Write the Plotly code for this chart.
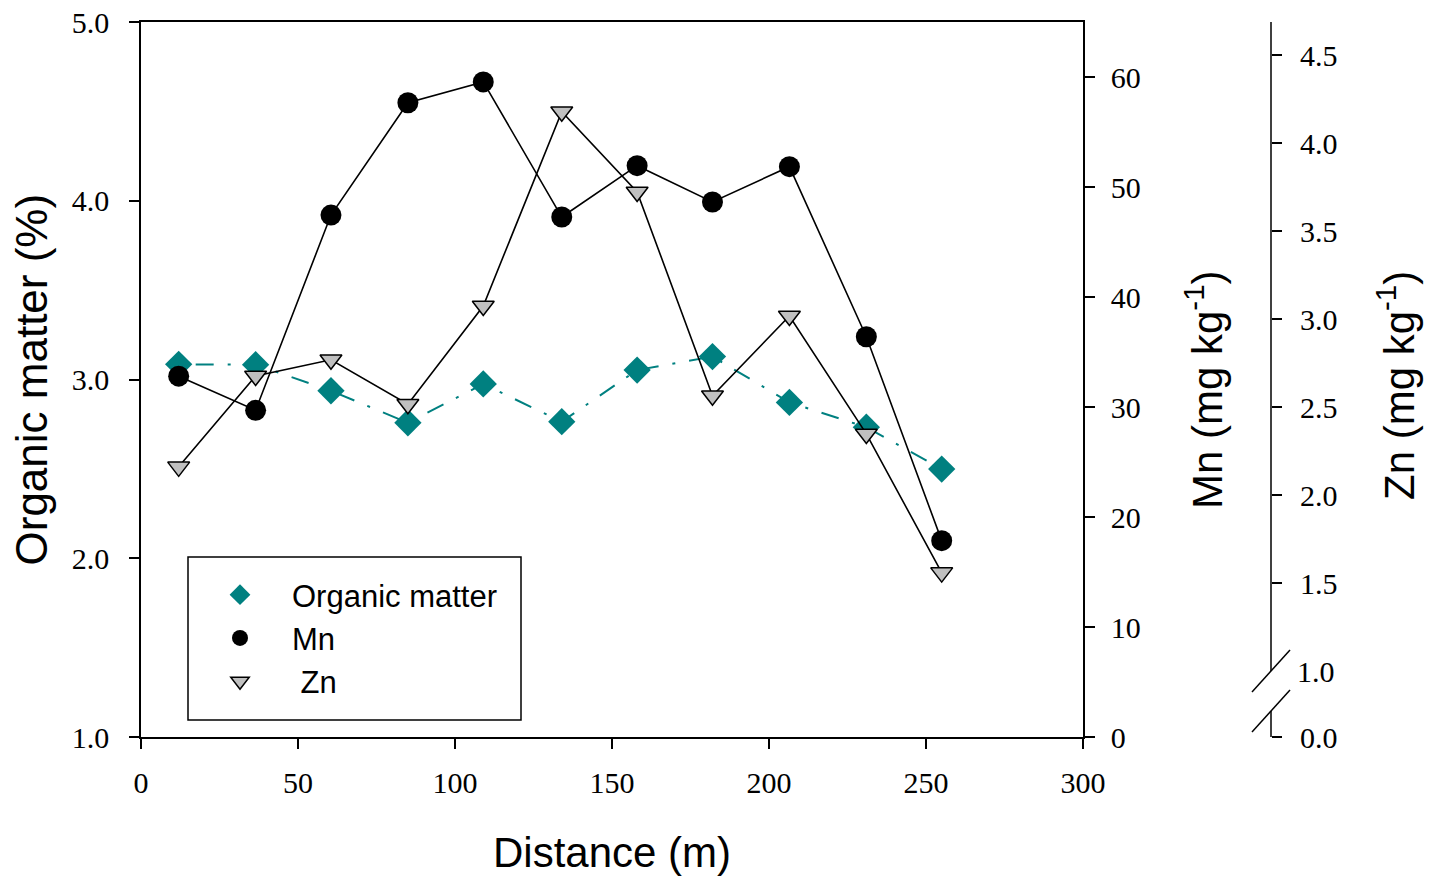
import plotly.graph_objects as go

distance = [12, 36.5, 60.5, 85, 109, 134, 158, 182, 206.5, 231, 255]
organic_matter = [3.085, 3.083, 2.937, 2.758, 2.975, 2.764, 3.053, 3.128, 2.872, 2.733, 2.499]
mn = [32.8, 29.7, 47.45, 57.66, 59.55, 47.27, 51.94, 48.64, 51.85, 36.39, 17.85]
zn = [2.16, 2.676, 2.768, 2.516, 3.074, 4.178, 3.722, 2.564, 3.017, 2.347, 1.559]

zn_break_bottom = 0.625
zn_tickvals = [0.625, 1.5, 2.0, 2.5, 3.0, 3.5, 4.0, 4.5]
zn_ticktext = ["0.0", "1.5", "2.0", "2.5", "3.0", "3.5", "4.0", "4.5"]

TEAL = "#008080"
SERIF = "Liberation Serif"
SANS = "Liberation Sans"

fig = go.Figure()

fig.add_trace(go.Scatter(x=distance, y=organic_matter, mode="lines", yaxis="y",
                         line=dict(color=TEAL, width=2, dash="3px,14px,18px,14px"),
                         showlegend=False, hoverinfo="skip"))
fig.add_trace(go.Scatter(x=distance, y=organic_matter, mode="markers", yaxis="y",
                         name="Organic matter",
                         marker=dict(symbol="diamond", size=21, color=TEAL, line=dict(width=0))))
fig.add_trace(go.Scatter(x=distance, y=mn, mode="lines", yaxis="y2",
                         line=dict(color="black", width=1.6), showlegend=False, hoverinfo="skip"))
fig.add_trace(go.Scatter(x=distance, y=mn, mode="markers", yaxis="y2", name="Mn",
                         marker=dict(symbol="circle", size=21, color="black", line=dict(width=0))))
fig.add_trace(go.Scatter(x=distance, y=zn, mode="lines", yaxis="y3",
                         line=dict(color="black", width=1.6), showlegend=False, hoverinfo="skip"))
fig.add_trace(go.Scatter(x=distance, y=zn, mode="markers", yaxis="y3", name=" Zn",
                         marker=dict(symbol="triangle-down", size=19, color="#c0c0c0",
                                     line=dict(color="black", width=1.5))))

tickfont = dict(family=SERIF, size=30, color="black")

fig.update_layout(
    width=1429, height=877,
    margin=dict(l=141, r=158, t=22, b=140, autoexpand=False),
    paper_bgcolor="white", plot_bgcolor="white",
    xaxis=dict(domain=[0, 942 / 1130], range=[0, 300], tickvals=[0, 50, 100, 150, 200, 250, 300],
               showgrid=False, zeroline=False, showline=True, linecolor="black", linewidth=1.5,
               mirror=True, ticks="outside", ticklen=10, tickwidth=1.5, tickcolor="black",
               tickfont=tickfont, ticklabelstandoff=8),
    yaxis=dict(range=[1.0, 5.0], tickvals=[1, 2, 3, 4, 5], ticktext=["1.0", "2.0", "3.0", "4.0", "5.0"],
               showgrid=False, zeroline=False, showline=True, linecolor="black", linewidth=1.5,
               mirror=True, ticks="outside", ticklen=10, tickwidth=1.5, tickcolor="black",
               tickfont=tickfont, ticklabelstandoff=14),
    yaxis2=dict(range=[0, 65], tickvals=[0, 10, 20, 30, 40, 50, 60], overlaying="y", side="right",
                anchor="x", showgrid=False, zeroline=False, showline=True, linecolor="black",
                linewidth=1.5, ticks="outside", ticklen=10, tickwidth=1.5, tickcolor="black",
                tickfont=tickfont, ticklabelstandoff=10),
    yaxis3=dict(range=[zn_break_bottom, 4.6875], tickvals=zn_tickvals, ticktext=zn_ticktext,
                overlaying="y", side="right", anchor="free", position=1.0, showgrid=False,
                zeroline=False, showline=False, ticks="outside", ticklen=10, tickwidth=1.5,
                tickcolor="black", tickfont=tickfont, ticklabelstandoff=12),
    legend=dict(x=(188 - 141) / 1130, y=(737 - 568) / 715, xanchor="left", yanchor="top",
                borderwidth=0, bgcolor="rgba(0,0,0,0)",
                font=dict(family=SANS, size=31, color="black"), itemwidth=94,
                tracegroupgap=0),
    showlegend=True,
)

# legend frame
fig.add_shape(type="rect", xref="paper", yref="paper",
              x0=(188 - 141) / 1130, x1=(521 - 141) / 1130,
              y0=(737 - 720) / 715, y1=(737 - 557) / 715,
              line=dict(color="black", width=1.5), fillcolor="rgba(0,0,0,0)")

# Zn axis line with a break
axline = dict(color="black", width=1.5)
fig.add_shape(type="line", xref="paper", yref="y3", x0=1.0, x1=1.0, y0=1.0, y1=4.6875, line=axline)
fig.add_shape(type="line", xref="paper", yref="y3", x0=1.0, x1=1.0, y0=0.7727, y1=zn_break_bottom, line=axline)
for yc in (1.0, 0.7727):
    fig.add_shape(type="line", xref="paper", yref="y3", xsizemode="pixel", xanchor=1.0,
                  x0=-19, x1=19, y0=yc - 21 / 176, y1=yc + 21 / 176, line=axline)

fig.add_annotation(text="1.0", xref="paper", yref="y3", x=1.0, y=1.0, xanchor="left",
                   yanchor="middle", xshift=24, showarrow=False, font=tickfont)

titlefont = dict(family=SANS, size=42, color="black")
fig.add_annotation(text="Organic matter (%)", xref="paper", yref="paper", x=0, y=0.5,
                   xshift=-110, textangle=-90, xanchor="center", yanchor="middle",
                   showarrow=False, font=dict(family=SANS, size=44, color="black"))
fig.add_annotation(text="Distance (m)", xref="x domain", yref="paper", x=0.5, y=0,
                   yshift=-115, xanchor="center", yanchor="middle", showarrow=False, font=titlefont)
fig.add_annotation(text="Mn (mg kg<sup>-1</sup>)", xref="paper", yref="paper", x=942 / 1130,
                   y=(737 - 390) / 715, xshift=1204 - 1083, textangle=-90, xanchor="center",
                   yanchor="middle", showarrow=False, font=titlefont)
fig.add_annotation(text="Zn (mg kg<sup>-1</sup>)", xref="paper", yref="paper", x=1.0,
                   y=(737 - 386) / 715, xshift=1396 - 1271, textangle=-90, xanchor="center",
                   yanchor="middle", showarrow=False, font=titlefont)

fig.write_html("out.html")
